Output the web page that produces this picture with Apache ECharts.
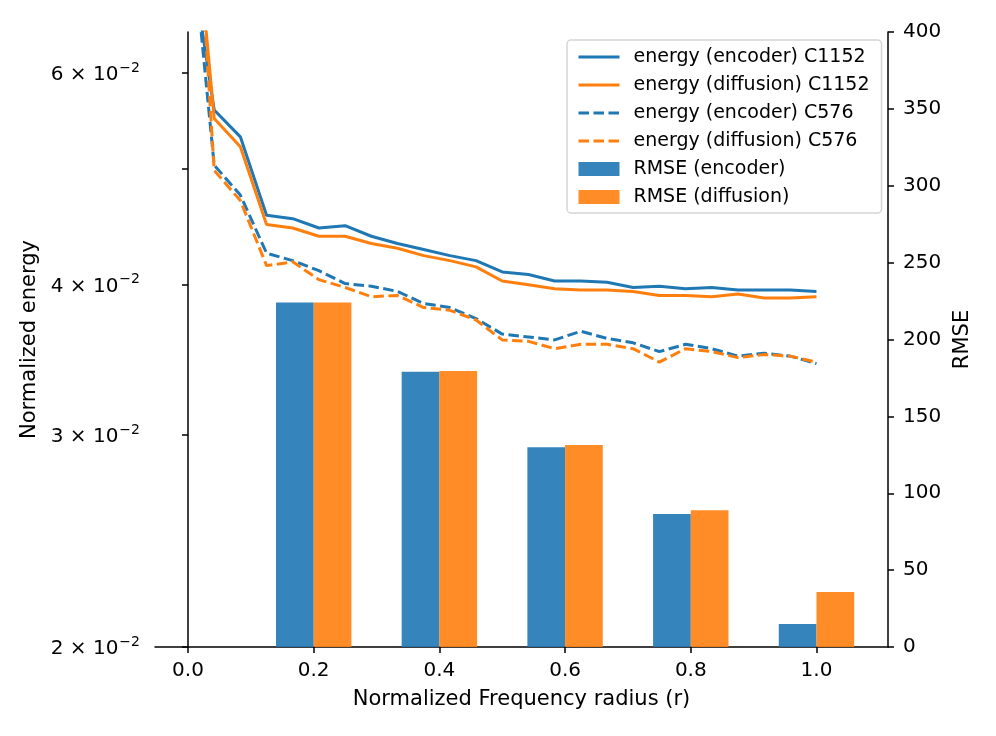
<!DOCTYPE html>
<html><head><meta charset="utf-8">
<script src="https://cdn.jsdelivr.net/npm/echarts@6/dist/echarts.min.js"></script>
<style>html,body{margin:0;padding:0;background:#fff}#c{width:996px;height:736px}</style>
</head><body><div id="c"></div>
<script>
// ---- data ----
const r = [0.0000,0.0417,0.0833,0.1250,0.1667,0.2083,0.2500,0.2917,0.3333,0.3750,0.4167,0.4583,0.5000,
           0.5417,0.5833,0.6250,0.6667,0.7083,0.7500,0.7917,0.8333,0.8750,0.9167,0.9583,1.0000];
const encC1152 = [0.0780,0.0559,0.0531,0.0457,0.0454,0.0446,0.0448,0.0439,0.0433,0.0428,0.0423,0.0419,0.0410,
                  0.0408,0.0403,0.0403,0.0402,0.0398,0.0399,0.0397,0.0398,0.0396,0.0396,0.0396,0.0395];
const difC1152 = [0.0950,0.0550,0.0521,0.0449,0.0446,0.0439,0.0439,0.0433,0.0429,0.0423,0.0419,0.0414,0.0403,
                  0.0400,0.0397,0.0396,0.0396,0.0395,0.0392,0.0392,0.0391,0.0393,0.0390,0.0390,0.0391];
const encC576  = [0.0839,0.0503,0.0475,0.0425,0.0419,0.0411,0.0401,0.0399,0.0395,0.0386,0.0383,0.0375,0.0364,
                  0.0362,0.0360,0.0366,0.0361,0.0358,0.0352,0.0357,0.0354,0.0349,0.0351,0.0349,0.0344];
const difC576  = [0.1110,0.0498,0.0470,0.0415,0.0418,0.0404,0.0398,0.0391,0.0392,0.0383,0.0381,0.0374,0.0360,
                  0.0359,0.0354,0.0357,0.0357,0.0354,0.0345,0.0354,0.0352,0.0348,0.0350,0.0349,0.0345];
const barR = [0.2, 0.4, 0.6, 0.8, 1.0];
const rmseEnc = [224, 179, 130, 86.5, 15];
const rmseDif = [224, 179.5, 131.4, 89, 35.8];
const xTicks = [0, 0.2, 0.4, 0.6, 0.8, 1.0];
const yLeftTicks = [0.02, 0.03, 0.04, 0.05, 0.06];
const yLeftLabels = [0.02, 0.03, 0.04, 0.06];
const names = ['energy (encoder) C1152','energy (diffusion) C1152','energy (encoder) C576','energy (diffusion) C576','RMSE (encoder)','RMSE (diffusion)'];

// ---- layout ----
const FONT = 'DejaVu Sans';
const FS_TICK = 20, FS_NAME = 21, FS_LEG = 19;
const G = {left:155, right:108, top:32, bottom:89};
const XMIN = -0.0525, XMAX = 1.1138;
const gridW = 996 - G.left - G.right;
const barW = 0.06 * gridW / (XMAX - XMIN);
const BLUE = '#1f77b4', ORANGE = '#ff7f0e';
const LW = 3;
const DASH = [10.5, 4.5];
const zip = (a, b) => a.map((v, i) => [v, b[i]]);
const axisLineStyle = {color:'#000', width:1.5};
const tickStyle = {show:true, inside:false, length:6, lineStyle:{color:'#000', width:1.5}};

function lineSeries(name, data, color, dashed) {
  return {name, type:'line', xAxisIndex:0, yAxisIndex:0, data: zip(r, data),
    symbol:'none', showSymbol:false, clip:true, z:2, silent:true,
    lineStyle:{color, width:LW, type: dashed ? DASH : 'solid', cap:'butt'},
    itemStyle:{color}};
}

const chart = echarts.init(document.getElementById('c'), null, {renderer:'canvas'});
chart.setOption({
  animation:false,
  backgroundColor:'#fff',
  textStyle:{fontFamily:FONT},
  grid: G,
  xAxis: {type:'value', min:XMIN, max:XMAX,
    name:'Normalized Frequency radius (r)', nameLocation:'middle', nameGap:42,
    nameTextStyle:{fontFamily:FONT, fontSize:FS_NAME, color:'#000'},
    axisLine:{show:true, onZero:false, lineStyle:axisLineStyle},
    axisTick:Object.assign({customValues:xTicks}, tickStyle),
    axisLabel:{customValues:xTicks, fontFamily:FONT, fontSize:FS_TICK, color:'#000', margin:14,
      formatter: v => v.toFixed(1)},
    splitLine:{show:false}},
  yAxis: [
    {type:'log', logBase:10, min:0.02, max:0.0649, position:'left',
      name:'Normalized energy', nameLocation:'middle', nameGap:111, nameRotate:90,
      nameTextStyle:{fontFamily:FONT, fontSize:FS_NAME, color:'#000'},
      axisLine:{show:true, lineStyle:axisLineStyle},
      axisTick:Object.assign({customValues:yLeftTicks}, tickStyle),
      axisLabel:{customValues:yLeftLabels, fontFamily:FONT, fontSize:FS_TICK, color:'#000', margin:15,
        formatter: v => '{b|' + Math.round(v*100) + ' \u00D7 10}{s|\u22122}',
        rich:{
          b:{fontFamily:FONT, fontSize:FS_TICK, color:'#000', lineHeight:24, verticalAlign:'bottom'},
          s:{fontFamily:FONT, fontSize:14, color:'#000', lineHeight:14, verticalAlign:'top', padding:[0,0,0,1]}
        }},
      splitLine:{show:false}},
    {type:'value', min:0, max:400, interval:50, position:'right',
      name:'RMSE', nameLocation:'middle', nameGap:63, nameRotate:90,
      nameTextStyle:{fontFamily:FONT, fontSize:FS_NAME, color:'#000'},
      axisLine:{show:true, lineStyle:axisLineStyle},
      axisTick:tickStyle,
      axisLabel:{fontFamily:FONT, fontSize:FS_TICK, color:'#000', margin:15},
      splitLine:{show:false}}
  ],
  legend: {orient:'vertical', left:567, top:40, padding:[7,12,6,10],
    itemWidth:41, itemHeight:14, itemGap:8,
    backgroundColor:'rgba(255,255,255,0.8)', borderColor:'#d5d5d5', borderWidth:1.5, borderRadius:4,
    lineStyle:{width:LW},
    textStyle:{fontFamily:FONT, fontSize:FS_LEG, color:'#000', lineHeight:20, padding:[0,0,0,9]},
    data: names.map((n, i) => i < 4
      ? {name:n, itemStyle:{opacity:0}, lineStyle:{width:LW, type: i >= 2 ? DASH : 'solid'}}
      : {name:n, icon:'rect'})},
  series: [
    lineSeries(names[0], encC1152, BLUE, false),
    lineSeries(names[1], difC1152, ORANGE, false),
    lineSeries(names[2], encC576, BLUE, true),
    lineSeries(names[3], difC576, ORANGE, true),
    {name:names[4], type:'bar', xAxisIndex:0, yAxisIndex:1, data: zip(barR, rmseEnc),
      barWidth:barW, barGap:'0%', z:3, itemStyle:{color:'rgba(31,119,180,0.9)'}},
    {name:names[5], type:'bar', xAxisIndex:0, yAxisIndex:1, data: zip(barR, rmseDif),
      barWidth:barW, barGap:'0%', z:3, itemStyle:{color:'rgba(255,127,14,0.9)'}}
  ]
});
</script></body></html>
